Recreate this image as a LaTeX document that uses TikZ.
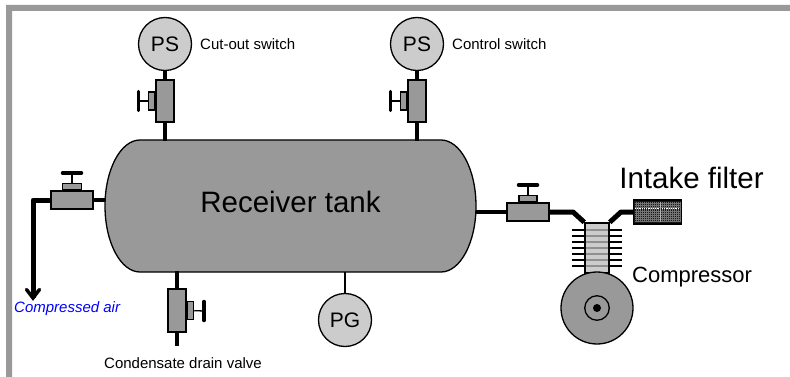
\documentclass[tikz,border=0pt]{standalone}
\usepackage{fontspec}
\setmainfont{Liberation Sans}
\usepackage{tikz}
\usetikzlibrary{arrows,positioning}
\definecolor{tankgray}{gray}{.6}
\definecolor{gaugegray}{gray}{.8}
\tikzset{
  gauge/.style={circle,draw,line width=1.3pt,fill=gaugegray,inner sep=0pt,minimum size=53pt,font=\fontsize{21}{21}\selectfont},
  valvebody/.style={rectangle,draw,line width=1.5pt,fill=tankgray,inner sep=0pt},
  pipe/.style={line width=4pt},
  bentpipe/.style={line width=5pt,line join=round},
  stem/.style={line width=1.3pt},
  handle/.style={line width=3.5pt,line cap=round},
  fin/.style={line width=1.3pt},
  smalllabel/.style={inner sep=0pt,font=\fontsize{15}{15}\selectfont},
  biglabel/.style={inner sep=0pt,font=\fontsize{29.5}{30}\selectfont}
}
\begin{document}
\begin{tikzpicture}[x=1pt,y=-1pt]
  \useasboundingbox (0,0) rectangle (790,377);
  %draw frame
    \fill[tankgray] (6,5) -- (790,5) -- (790,11) -- (12,11) -- (12,377) -- (6,377) -- cycle;
  %draw tank
    \draw[line width=1.3pt,fill=tankgray] (140,140) -- (441,140) arc (-90:90:35 and 66) -- (140,272) arc (90:270:35 and 66) -- cycle;
    \node[inner sep=0pt,minimum width=372pt,minimum height=132pt] (tank) at (290.5,206) {};
    \node[biglabel] (tanktext) at (290.5,202) {Receiver tank};
  %draw gauges
    \node[gauge] (cutout) at (165,44) {PS};
    \node[gauge] (control) at (417,44) {PS};
    \node[gauge] (gauge) at (345,320) {PG};
  %draw valve bodies
    \node[valvebody,minimum width=18pt,minimum height=42pt] (cutvalve) at (165,101) {};
    \node[valvebody,minimum width=6pt,minimum height=18pt,left=0pt of cutvalve] (cutbonnet) {};
    \node[valvebody,minimum width=18pt,minimum height=42pt] (ctlvalve) at (417,101) {};
    \node[valvebody,minimum width=6pt,minimum height=18pt,left=0pt of ctlvalve] (ctlbonnet) {};
    \node[valvebody,minimum width=18pt,minimum height=43pt] (drainvalve) at (177,310.5) {};
    \node[valvebody,minimum width=6pt,minimum height=18pt,right=0pt of drainvalve] (drainbonnet) {};
    \node[valvebody,minimum width=42pt,minimum height=18pt] (outvalve) at (72,200) {};
    \node[valvebody,minimum width=19pt,minimum height=6pt,above=0pt of outvalve] (outbonnet) {};
    \node[valvebody,minimum width=42pt,minimum height=18pt] (inletvalve) at (528,212) {};
    \node[valvebody,minimum width=18pt,minimum height=6pt,above=0pt of inletvalve] (inletbonnet) {};
  %draw handles
    \coordinate (cuthandle) at (138.5,101);
    \coordinate (ctlhandle) at (390.5,101);
    \coordinate (drainhandle) at (204,311);
    \coordinate (outhandle) at (72,173);
    \coordinate (inlethandle) at (528,185);
    \draw[stem] (cutbonnet) -- (cuthandle);
    \draw[stem] (ctlbonnet) -- (ctlhandle);
    \draw[stem] (drainbonnet) -- (drainhandle);
    \draw[stem] (outbonnet) -- (outhandle);
    \draw[stem] (inletbonnet) -- (inlethandle);
    \draw[handle] (cuthandle) ++(0,-9.5) -- ++(0,19);
    \draw[handle] (ctlhandle) ++(0,-9.5) -- ++(0,19);
    \draw[handle] (drainhandle) ++(0,-9.5) -- ++(0,19);
    \draw[handle] (outhandle) ++(-9.5,0) -- ++(19,0);
    \draw[handle] (inlethandle) ++(-9.5,0) -- ++(19,0);
  %draw compressor
    \node[draw,line width=2pt,fill=gaugegray,inner sep=0pt,minimum width=23.5pt,minimum height=49.5pt] (cylinder) at (597,248) {};
    \foreach \y in {230,236,242,248,254,260,266}
      \draw[fin] (572,\y) -- (622,\y);
    \foreach \y in {230,236,242,248,254,260,266}
      \draw[gaugegray!70!black,line width=1.3pt] (586,\y) -- (608,\y);
    \node[circle,draw,line width=1.3pt,fill=tankgray,inner sep=0pt,minimum size=72pt] (flywheel) at (597,308) {};
    \node[circle,draw,line width=1.3pt,fill=tankgray,inner sep=0pt,minimum size=24.5pt] (hub) at (597,308) {};
    \node[circle,fill=black,inner sep=0pt,minimum size=8pt] (shaft) at (597,308) {};
  %draw filter
    \node[draw,line width=1.3pt,fill=black!90,inner sep=0pt,minimum width=48pt,minimum height=24pt] (filter) at (657.5,212) {};
    \foreach \y in {203,205,207,211,213,215,217,219,221}
      \draw[black!55,line width=.5pt] (635,\y) -- (680,\y);
    \foreach \x in {636,638,...,680}
      \draw[black!55,line width=.5pt] (\x,202) -- (\x,222);
    \draw[white,line width=.8pt,densely dotted] (635,208.5) -- (680,208.5);
    \draw[black!30,line width=.7pt] (660,202) -- (660,222);
  %draw pipes
    \coordinate (outcorner) at (33,200);
    \coordinate (airend) at (33,298);
    \coordinate (leftbend) at (573,212);
    \coordinate (rightbend) at (621,212);
    \begin{scope}[every path/.style={pipe,shorten <=-1pt,shorten >=-1pt}]
       \draw (cutvalve.north) -- (cutout.south);
       \draw (cutvalve.south) -- (cutvalve.south |- tank.north);
       \draw (ctlvalve.north) -- (control.south);
       \draw (ctlvalve.south) -- (ctlvalve.south |- tank.north);
       \draw (drainvalve.north) -- (drainvalve.north |- tank.south);
       \draw[shorten >=-12pt,shorten <=0pt] (drainvalve.south) -- ++(0,1);
       \draw (outvalve.east) -- (outvalve.east -| tank.west);
       \draw (inletvalve.west) -- (inletvalve.west -| tank.east);
    \end{scope}
    \draw[bentpipe] (inletvalve.east) -- (leftbend) -- (cylinder.north west);
    \draw[bentpipe] (cylinder.north east) -- (rightbend) -- (filter.west);
    \draw[bentpipe] (outvalve.west) -- (outcorner) -- (airend);
    \draw[line width=3.5pt,line cap=round,line join=miter] (26.5,289.5) -- (airend) -- (39.5,289.5);
    \draw[line width=1.1pt] (gauge.north) -- (gauge.north |- tank.south);
  %insert labels
    \node[smalllabel,anchor=west] (cutlabel) at (200,44) {Cut-out switch};
    \node[smalllabel,anchor=west] (ctllabel) at (452,44) {Control switch};
    \node[smalllabel] (drainlabel) at (183,363) {Condensate drain valve};
    \node[smalllabel,anchor=west,text=blue,font=\fontsize{15}{15}\selectfont\itshape] (airlabel) at (14,309) {Compressed air};
    \node[biglabel] (intakelabel) at (691.5,178) {Intake filter};
    \node[inner sep=0pt,anchor=west,font=\fontsize{22}{22}\selectfont] (complabel) at (632,277) {Compressor};
\end{tikzpicture}
\end{document}
